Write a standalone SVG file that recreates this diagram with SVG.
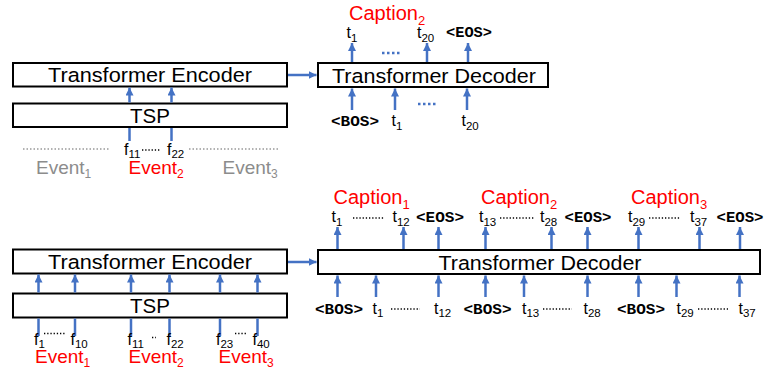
<svg xmlns="http://www.w3.org/2000/svg" width="764" height="370" viewBox="0 0 764 370">
<style>
.box{fill:#fff;stroke:#000;stroke-width:2}
.big{font-family:"Liberation Sans",Arial,sans-serif;font-size:20.5px;fill:#000;text-anchor:middle}
.lbl{font-family:"Liberation Sans",Arial,sans-serif;font-size:16px;fill:#000}
.cap{font-family:"Liberation Sans",Arial,sans-serif;font-size:20px;fill:#ff0000}
.ev{font-family:"Liberation Sans",Arial,sans-serif;font-size:19px}
.tok{font-family:"Liberation Mono","Courier New",monospace;font-size:14px;font-weight:bold;fill:#000}
.arr{stroke:#4472c4;stroke-width:2.5;fill:none;marker-end:url(#ah)}
.seg{stroke:#4472c4;stroke-width:2.5;fill:none}
.bdots{stroke:#4472c4;stroke-width:2.5;stroke-dasharray:2.5 2.5;fill:none}
.kdots{stroke:#000;stroke-width:1.3;stroke-dasharray:1.3 1.9;fill:none}
.gdots{stroke:#999;stroke-width:1.5;stroke-dasharray:1.5 2;fill:none}
.red{fill:#ff0000}
.gray{fill:#8c8c8c}
.sub{font-size:11.5px}
</style>
<defs>
<marker id="ah" markerUnits="userSpaceOnUse" markerWidth="10" markerHeight="10" refX="8" refY="4" orient="auto">
<path d="M0,0 L8,4 L0,8 Z" fill="#4472c4"/>
</marker>
</defs>

<!-- Top section -->
<g id="enc-top">
<rect class="box" x="13" y="63" width="274" height="23.5"/>
<text class="big" x="150" y="82" textLength="204" lengthAdjust="spacingAndGlyphs">Transformer Encoder</text>
</g>
<g id="tsp-top">
<rect class="box" x="13" y="103.5" width="274" height="23.5"/>
<text class="big" x="150" y="122.5">TSP</text>
</g>
<g id="dec-top">
<rect class="box" x="318" y="63" width="230" height="24"/>
<text class="big" x="434" y="82.5" textLength="204" lengthAdjust="spacingAndGlyphs">Transformer Decoder</text>
</g>

<!-- Bottom section -->
<g id="enc-bot">
<rect class="box" x="13" y="249.5" width="274" height="24"/>
<text class="big" x="150" y="268.5" textLength="204" lengthAdjust="spacingAndGlyphs">Transformer Encoder</text>
</g>
<g id="tsp-bot">
<rect class="box" x="13" y="293.5" width="274" height="24"/>
<text class="big" x="150" y="312.5">TSP</text>
</g>
<g id="dec-bot">
<rect class="box" x="318" y="250" width="442" height="24"/>
<text class="big" x="540" y="269.5" textLength="203" lengthAdjust="spacingAndGlyphs">Transformer Decoder</text>
</g>

<g id="connectors">
<!-- top -->
<line class="seg" x1="129.5" y1="141" x2="129.5" y2="128"/>
<line class="seg" x1="171.5" y1="141" x2="171.5" y2="128"/>
<line class="arr" x1="129.5" y1="102.5" x2="129.5" y2="87.5"/>
<line class="arr" x1="171.5" y1="102.5" x2="171.5" y2="87.5"/>
<line class="arr" x1="288" y1="75" x2="316.5" y2="75"/>
<line class="arr" x1="352" y1="62" x2="352" y2="43"/>
<line class="arr" x1="427" y1="62" x2="427" y2="43"/>
<line class="arr" x1="468" y1="62" x2="468" y2="43"/>
<line class="arr" x1="352" y1="110" x2="352" y2="88.5"/>
<line class="arr" x1="395" y1="110" x2="395" y2="88.5"/>
<line class="arr" x1="467" y1="110" x2="467" y2="88.5"/>
<!-- bottom -->
<line class="seg" x1="38.5" y1="336" x2="38.5" y2="318.5"/>
<line class="seg" x1="75" y1="336" x2="75" y2="318.5"/>
<line class="seg" x1="131" y1="336" x2="131" y2="318.5"/>
<line class="seg" x1="169.5" y1="336" x2="169.5" y2="318.5"/>
<line class="seg" x1="220" y1="336" x2="220" y2="318.5"/>
<line class="seg" x1="257.5" y1="336" x2="257.5" y2="318.5"/>
<line class="arr" x1="38.5" y1="292.5" x2="38.5" y2="274.5"/>
<line class="arr" x1="75" y1="292.5" x2="75" y2="274.5"/>
<line class="arr" x1="131" y1="292.5" x2="131" y2="274.5"/>
<line class="arr" x1="169.5" y1="292.5" x2="169.5" y2="274.5"/>
<line class="arr" x1="220" y1="292.5" x2="220" y2="274.5"/>
<line class="arr" x1="257.5" y1="292.5" x2="257.5" y2="274.5"/>
<line class="arr" x1="288" y1="262" x2="316.5" y2="262"/>
<line class="arr" x1="337.5" y1="249" x2="337.5" y2="227"/>
<line class="arr" x1="403.5" y1="249" x2="403.5" y2="227"/>
<line class="arr" x1="438.5" y1="249" x2="438.5" y2="227"/>
<line class="arr" x1="485.5" y1="249" x2="485.5" y2="227"/>
<line class="arr" x1="551.5" y1="249" x2="551.5" y2="227"/>
<line class="arr" x1="587.5" y1="249" x2="587.5" y2="227"/>
<line class="arr" x1="638.5" y1="249" x2="638.5" y2="227"/>
<line class="arr" x1="699.5" y1="249" x2="699.5" y2="227"/>
<line class="arr" x1="740" y1="249" x2="740" y2="227"/>
<line class="arr" x1="337.5" y1="297" x2="337.5" y2="275.5"/>
<line class="arr" x1="376" y1="297" x2="376" y2="275.5"/>
<line class="arr" x1="438.5" y1="297" x2="438.5" y2="275.5"/>
<line class="arr" x1="485.5" y1="297" x2="485.5" y2="275.5"/>
<line class="arr" x1="524" y1="297" x2="524" y2="275.5"/>
<line class="arr" x1="587.5" y1="297" x2="587.5" y2="275.5"/>
<line class="arr" x1="638.5" y1="297" x2="638.5" y2="275.5"/>
<line class="arr" x1="676.5" y1="297" x2="676.5" y2="275.5"/>
<line class="arr" x1="739.5" y1="297" x2="739.5" y2="275.5"/>
</g>

<g id="labels-top">
<line class="gdots" x1="23" y1="149" x2="110" y2="149"/>
<line class="kdots" x1="142" y1="150" x2="161" y2="150"/>
<line class="gdots" x1="189" y1="149" x2="280" y2="149"/>
<text class="lbl" x="124" y="155">f<tspan class="sub" dy="3">11</tspan></text>
<text class="lbl" x="167" y="155">f<tspan class="sub" dy="3">22</tspan></text>
<text class="ev gray" x="36" y="173.5">Event<tspan font-size="12" dy="4">1</tspan></text>
<text class="ev red" x="128.5" y="173.5">Event<tspan font-size="12" dy="4">2</tspan></text>
<text class="ev gray" x="222.5" y="173.5">Event<tspan font-size="12" dy="4">3</tspan></text>

<text class="cap" x="349" y="20">Caption<tspan font-size="13" dy="4.5">2</tspan></text>
<text class="lbl" x="346.5" y="38">t<tspan class="sub" dy="3.5">1</tspan></text>
<text class="lbl" x="417" y="38">t<tspan class="sub" dy="3.5">20</tspan></text>
<text class="tok" x="446" y="37" textLength="46" lengthAdjust="spacingAndGlyphs">&lt;EOS&gt;</text>
<line class="bdots" x1="382" y1="53" x2="402" y2="53"/>
<line class="bdots" x1="418" y1="104" x2="438" y2="104"/>
<text class="tok" x="331" y="126" textLength="48" lengthAdjust="spacingAndGlyphs">&lt;BOS&gt;</text>
<text class="lbl" x="391.5" y="126">t<tspan class="sub" dy="3.5">1</tspan></text>
<text class="lbl" x="461.5" y="126">t<tspan class="sub" dy="3.5">20</tspan></text>
</g>

<g id="labels-bottom">
<text class="lbl" x="34" y="344.5">f<tspan class="sub" dy="3">1</tspan></text>
<line class="kdots" x1="44" y1="333.5" x2="65" y2="333.5"/>
<text class="lbl" x="70.5" y="344.5">f<tspan class="sub" dy="3">10</tspan></text>
<text class="lbl" x="127.5" y="344.5">f<tspan class="sub" dy="3">11</tspan></text>
<line class="kdots" x1="152" y1="337.5" x2="156" y2="337.5"/>
<text class="lbl" x="166.5" y="344.5">f<tspan class="sub" dy="3">22</tspan></text>
<text class="lbl" x="216" y="344.5">f<tspan class="sub" dy="3">23</tspan></text>
<line class="kdots" x1="235" y1="333.5" x2="247" y2="333.5"/>
<text class="lbl" x="252.5" y="344.5">f<tspan class="sub" dy="3">40</tspan></text>
<text class="ev red" x="35" y="362.5">Event<tspan font-size="12" dy="4">1</tspan></text>
<text class="ev red" x="128.5" y="362.5">Event<tspan font-size="12" dy="4">2</tspan></text>
<text class="ev red" x="218.5" y="362.5">Event<tspan font-size="12" dy="4">3</tspan></text>

<text class="cap" x="333.5" y="204">Caption<tspan font-size="13" dy="4.5">1</tspan></text>
<text class="cap" x="481" y="204">Caption<tspan font-size="13" dy="4.5">2</tspan></text>
<text class="cap" x="631" y="204">Caption<tspan font-size="13" dy="4.5">3</tspan></text>

<text class="lbl" x="331.5" y="222">t<tspan class="sub" dy="3.5">1</tspan></text>
<line class="kdots" x1="353" y1="218" x2="384" y2="218"/>
<text class="lbl" x="392.5" y="222">t<tspan class="sub" dy="3.5">12</tspan></text>
<text class="tok" x="416" y="222" textLength="48" lengthAdjust="spacingAndGlyphs">&lt;EOS&gt;</text>
<text class="lbl" x="479" y="222">t<tspan class="sub" dy="3.5">13</tspan></text>
<line class="kdots" x1="500" y1="218" x2="535" y2="218"/>
<text class="lbl" x="540" y="222">t<tspan class="sub" dy="3.5">28</tspan></text>
<text class="tok" x="564.5" y="222" textLength="47" lengthAdjust="spacingAndGlyphs">&lt;EOS&gt;</text>
<text class="lbl" x="628" y="222">t<tspan class="sub" dy="3.5">29</tspan></text>
<line class="kdots" x1="649" y1="218" x2="680" y2="218"/>
<text class="lbl" x="690" y="222">t<tspan class="sub" dy="3.5">37</tspan></text>
<text class="tok" x="716.5" y="222" textLength="47" lengthAdjust="spacingAndGlyphs">&lt;EOS&gt;</text>

<text class="tok" x="315" y="313.5" textLength="48" lengthAdjust="spacingAndGlyphs">&lt;BOS&gt;</text>
<text class="lbl" x="372.5" y="313.5">t<tspan class="sub" dy="3.5">1</tspan></text>
<line class="kdots" x1="391" y1="309" x2="420" y2="309"/>
<text class="lbl" x="434" y="313.5">t<tspan class="sub" dy="3.5">12</tspan></text>
<text class="tok" x="463.5" y="313.5" textLength="48" lengthAdjust="spacingAndGlyphs">&lt;BOS&gt;</text>
<text class="lbl" x="522" y="313.5">t<tspan class="sub" dy="3.5">13</tspan></text>
<line class="kdots" x1="543" y1="309" x2="572" y2="309"/>
<text class="lbl" x="583.5" y="313.5">t<tspan class="sub" dy="3.5">28</tspan></text>
<text class="tok" x="617" y="313.5" textLength="48" lengthAdjust="spacingAndGlyphs">&lt;BOS&gt;</text>
<text class="lbl" x="676.5" y="313.5">t<tspan class="sub" dy="3.5">29</tspan></text>
<line class="kdots" x1="698" y1="309" x2="728" y2="309"/>
<text class="lbl" x="738.5" y="313.5">t<tspan class="sub" dy="3.5">37</tspan></text>
</g>
</svg>
